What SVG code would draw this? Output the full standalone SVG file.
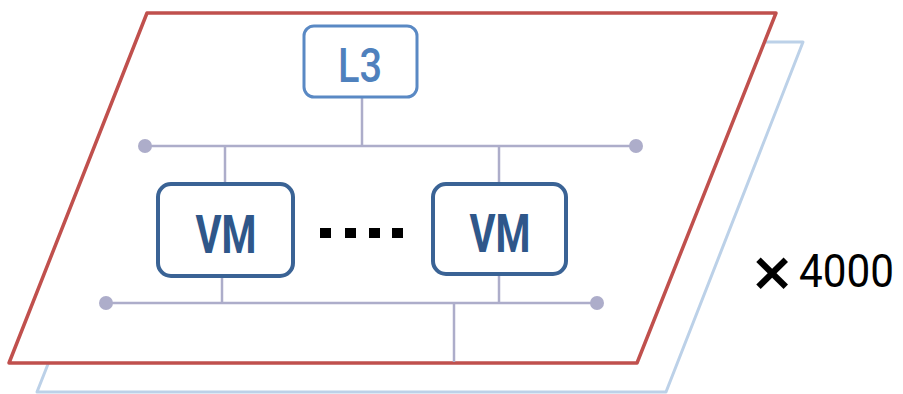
<svg xmlns="http://www.w3.org/2000/svg" width="903" height="394" viewBox="0 0 903 394">
  <style>
    .plane-back { fill: #ffffff; stroke: #bcd1e8; stroke-width: 3; stroke-linejoin: round; }
    .plane-front { fill: #ffffff; stroke: #c0504d; stroke-width: 3.5; stroke-linejoin: round; }
    .bus { stroke: #adadca; stroke-width: 2.5; fill: none; }
    .dot { fill: #adadca; }
    .l3-box { fill: #ffffff; stroke: #5a89c4; stroke-width: 3; }
    .l3-text { fill: #4f81bd; font-family: Roboto, "Liberation Sans", sans-serif; font-weight: 500; font-size: 48px; text-anchor: middle; }
    .vm-box { fill: #ffffff; stroke: #3a6395; stroke-width: 4; }
    .vm-text { fill: #2f578a; font-family: Roboto, "Liberation Sans", sans-serif; font-weight: 700; font-size: 53px; text-anchor: middle; }
    .ellipsis { fill: #000000; }
    .count { fill: #000000; font-family: Roboto, "Liberation Sans", sans-serif; font-size: 47px; }
    .times { fill: #000000; font-family: "DejaVu Sans", sans-serif; font-weight: 700; font-size: 54px; text-anchor: middle; }
  </style>

  <!-- stacked planes -->
  <polygon class="plane-back" points="175,42 803,42 666,392 37,392"/>
  <polygon class="plane-front" points="147,13 776,13 637,363 9,363"/>

  <!-- network connectors -->
  <g id="connectors">
    <line class="bus" x1="145" y1="146" x2="636" y2="146"/>
    <circle class="dot" cx="145" cy="146" r="7"/>
    <circle class="dot" cx="636" cy="146" r="7"/>
    <line class="bus" x1="362" y1="98" x2="362" y2="146"/>
    <line class="bus" x1="225" y1="146" x2="225" y2="183"/>
    <line class="bus" x1="499" y1="146" x2="499" y2="183"/>

    <line class="bus" x1="106" y1="303" x2="597" y2="303"/>
    <circle class="dot" cx="106" cy="303" r="7"/>
    <circle class="dot" cx="597" cy="303" r="7"/>
    <line class="bus" x1="222" y1="277" x2="222" y2="303"/>
    <line class="bus" x1="499" y1="275" x2="499" y2="303"/>
    <line class="bus" x1="454" y1="303" x2="454" y2="362"/>
  </g>

  <g id="l3">
    <rect class="l3-box" x="304" y="26" width="113" height="71" rx="10"/>
    <text class="l3-text" x="360" y="82" textLength="44" lengthAdjust="spacingAndGlyphs">L3</text>
  </g>

  <g id="vm-left">
    <rect class="vm-box" x="158" y="184" width="135" height="92" rx="13"/>
    <text class="vm-text" x="226" y="253" textLength="61" lengthAdjust="spacingAndGlyphs">VM</text>
  </g>

  <g id="ellipsis">
    <rect class="ellipsis" x="320" y="228" width="11" height="10"/>
    <rect class="ellipsis" x="345" y="228" width="11" height="10"/>
    <rect class="ellipsis" x="369" y="228" width="11" height="10"/>
    <rect class="ellipsis" x="392" y="228" width="11" height="10"/>
  </g>

  <g id="vm-right">
    <rect class="vm-box" x="433" y="184" width="133" height="90" rx="13"/>
    <text class="vm-text" x="500" y="252" textLength="61" lengthAdjust="spacingAndGlyphs">VM</text>
  </g>

  <g id="multiplier">
    <text class="times" x="772" y="290">×</text>
    <text class="count" x="799" y="287" textLength="95" lengthAdjust="spacingAndGlyphs">4000</text>
  </g>
</svg>
